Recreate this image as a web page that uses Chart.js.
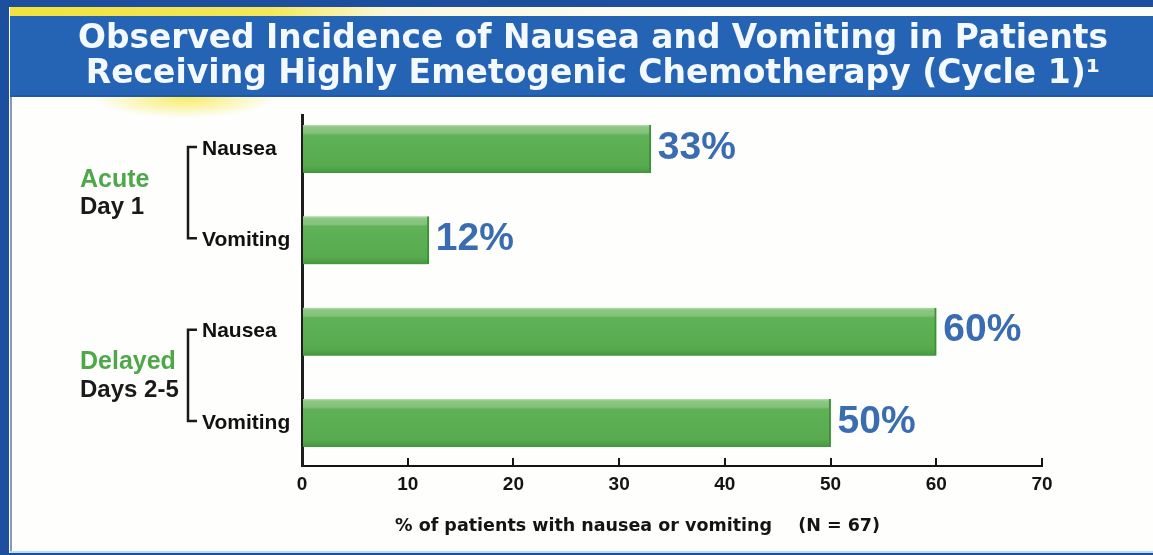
<!DOCTYPE html>
<html>
<head>
<meta charset="utf-8">
<script src="https://cdn.jsdelivr.net/npm/chart.js@4.4.1/dist/chart.umd.min.js"></script>
<style>
  html, body { margin: 0; padding: 0; background: #1d4f9f; }
  #c { display: block; }
</style>
</head>
<body>
<canvas id="c" width="1153" height="555"></canvas>
<script>
// ---- data ----
const titleLines = ['Observed Incidence of Nausea and Vomiting in Patients', 'Receiving Highly Emetogenic Chemotherapy (Cycle 1)\u00B9'];
const categories = ['Nausea', 'Vomiting', 'Nausea', 'Vomiting'];
const values = [33, 12, 60, 50];
const groupNames = ['Acute', 'Delayed'];
const groupSubs = ['Day 1', 'Days 2-5'];
const groupFirst = [0, 2];
const groupLast = [1, 3];
const xTicks = [0, 10, 20, 30, 40, 50, 60, 70];
const xTitleMain = '% of patients with nausea or vomiting';
const xTitleN = '(N = 67)';

const SANS = '"Liberation Sans", Arial, sans-serif';
const WIDE = '"DejaVu Sans", sans-serif';

const bgPlugin = {
  id: 'bg',
  beforeDraw(chart) {
    const ctx = chart.ctx, W = chart.width, H = chart.height;
    ctx.save();
    ctx.fillStyle = '#1d4f9f';
    ctx.fillRect(0, 0, W, H);
    ctx.fillStyle = '#fefefc';
    ctx.fillRect(9, 7, W - 9, 546);
    const yg = ctx.createLinearGradient(10, 0, 700, 0);
    yg.addColorStop(0, '#f2e23a');
    yg.addColorStop(0.38, '#f4e85a');
    yg.addColorStop(0.55, '#fbf8dc');
    yg.addColorStop(1, '#fdfdf6');
    ctx.fillStyle = yg;
    ctx.fillRect(10, 7, W - 10, 9);
    ctx.fillStyle = '#2564b4';
    ctx.fillRect(10, 16, W - 10, 81);
    ctx.fillStyle = '#1f5aa8';
    ctx.fillRect(10, 95, W - 10, 2);
    const rg = ctx.createRadialGradient(185, 97, 2, 185, 97, 70);
    rg.addColorStop(0, 'rgba(246,230,50,0.75)');
    rg.addColorStop(1, 'rgba(246,230,50,0)');
    ctx.save();
    ctx.beginPath();
    ctx.rect(10, 97, 400, 30);
    ctx.clip();
    ctx.translate(185, 97); ctx.scale(1.3, 0.3); ctx.translate(-185, -97);
    ctx.fillStyle = rg;
    ctx.fillRect(0, 0, 500, 300);
    ctx.restore();
    ctx.fillStyle = '#8a9ab4';
    ctx.fillRect(10, 97, 2, 455);
    ctx.fillStyle = '#bcdcf2';
    ctx.fillRect(10, 551, W - 10, 2);
    ctx.fillStyle = '#1d4f9f';
    ctx.fillRect(0, 553, W, 2);
    ctx.restore();
  }
};

const overlayPlugin = {
  id: 'overlay',
  afterDatasetsDraw(chart) {
    const ctx = chart.ctx;
    const meta = chart.getDatasetMeta(0);
    ctx.save();
    ctx.font = 'bold 39px ' + SANS;
    ctx.fillStyle = '#3a6cb2';
    ctx.textAlign = 'left';
    ctx.textBaseline = 'middle';
    meta.data.forEach((el, i) => {
      ctx.fillText(values[i] + '%', el.x + 7, el.y - 1);
    });
    ctx.restore();
  },
  afterDraw(chart) {
    const ctx = chart.ctx;
    const ys = chart.scales.y;
    const xs = chart.scales.x;
    ctx.save();
    const bx = ys.left - 14;
    groupNames.forEach((name, g) => {
      const y1 = ys.getPixelForValue(groupFirst[g]) - 2;
      const y2 = ys.getPixelForValue(groupLast[g]) - 2;
      ctx.strokeStyle = '#1a1a1a';
      ctx.lineWidth = 2.5;
      ctx.beginPath();
      ctx.moveTo(bx + 9, y1);
      ctx.lineTo(bx, y1);
      ctx.lineTo(bx, y2);
      ctx.lineTo(bx + 9, y2);
      ctx.stroke();
      const cy = (y1 + y2) / 2;
      ctx.textAlign = 'left';
      ctx.textBaseline = 'middle';
      ctx.font = 'bold 25px ' + SANS;
      ctx.fillStyle = '#4ea84a';
      ctx.fillText(name, 80, cy - 13);
      ctx.font = 'bold 24px ' + SANS;
      ctx.fillStyle = '#1a1a1a';
      ctx.fillText(groupSubs[g], 80, cy + 15);
    });
    ctx.font = 'bold 17.5px ' + WIDE;
    ctx.fillStyle = '#141414';
    ctx.textAlign = 'left';
    ctx.textBaseline = 'middle';
    ctx.fillText(xTitleMain, xs.left + 93, 526);
    ctx.textAlign = 'right';
    ctx.fillText(xTitleN, xs.left + 578, 526);
    ctx.restore();
  }
};

const ctx = document.getElementById('c').getContext('2d');

new Chart(ctx, {
  type: 'bar',
  data: {
    labels: categories,
    datasets: [{
      data: values,
      barThickness: 48,
      backgroundColor: (c) => {
        const ch = c.chart;
        const ys = ch.scales && ch.scales.y;
        if (!ys || !ch.chartArea) return '#57ac4e';
        const yc = ys.getPixelForValue(c.dataIndex);
        const g = ch.ctx.createLinearGradient(0, yc - 24, 0, yc + 24);
        g.addColorStop(0, '#b3dcab');
        g.addColorStop(0.05, '#8cc783');
        g.addColorStop(0.17, '#82c27a');
        g.addColorStop(0.21, '#60b157');
        g.addColorStop(0.85, '#57ab4e');
        g.addColorStop(0.95, '#4a9f42');
        g.addColorStop(1, '#3f9538');
        return g;
      },
      borderColor: '#3b9135',
      borderWidth: { right: 2, left: 0, top: 0, bottom: 0 },
      borderSkipped: false
    }]
  },
  options: {
    indexAxis: 'y',
    responsive: false,
    animation: false,
    devicePixelRatio: 1,
    layout: { padding: { left: 78, right: 45, top: 0, bottom: 29 } },
    plugins: {
      legend: { display: false },
      tooltip: { enabled: false },
      title: {
        display: true,
        text: titleLines,
        color: '#f4f8ff',
        font: { family: WIDE, weight: 'bold', size: 33, lineHeight: 35 / 33 },
        padding: { top: 22, bottom: 23 }
      }
    },
    scales: {
      x: {
        type: 'linear',
        position: 'bottom',
        min: 0,
        max: 70,
        afterBuildTicks: (s) => { s.ticks = xTicks.map(v => ({ value: v })); },
        afterFit: (s) => { s.height = 60; },
        ticks: {
          color: '#141414',
          font: { family: SANS, weight: 'bold', size: 19 },
          padding: 15
        },
        grid: {
          display: true,
          drawOnChartArea: false,
          drawTicks: true,
          tickLength: -8,
          color: '#141414',
          lineWidth: 2
        },
        border: { display: true, color: '#141414', width: 2 }
      },
      y: {
        type: 'category',
        position: 'left',
        weight: 0,
        afterBuildTicks: (s) => { s._startValue = -0.3724; s._valueRange = 3.843; },
        afterFit: (s) => { s.width = 100; },
        ticks: {
          crossAlign: 'far',
          color: '#111111',
          font: { family: SANS, weight: 'bold', size: 21 }
        },
        grid: { display: false, drawTicks: false },
        border: { display: true, color: '#1e1e1e', width: 3 }
      },
      yPad: {
        type: 'linear',
        position: 'left',
        weight: 1,
        afterFit: (s) => { s.width = 124; },
        ticks: { display: false },
        grid: { display: false, drawTicks: false },
        border: { display: false }
      },
      yPadR: {
        type: 'linear',
        position: 'right',
        weight: 1,
        afterFit: (s) => { s.width = 66; },
        ticks: { display: false },
        grid: { display: false, drawTicks: false },
        border: { display: false }
      }
    }
  },
  plugins: [bgPlugin, overlayPlugin]
});
</script>
</body>
</html>
